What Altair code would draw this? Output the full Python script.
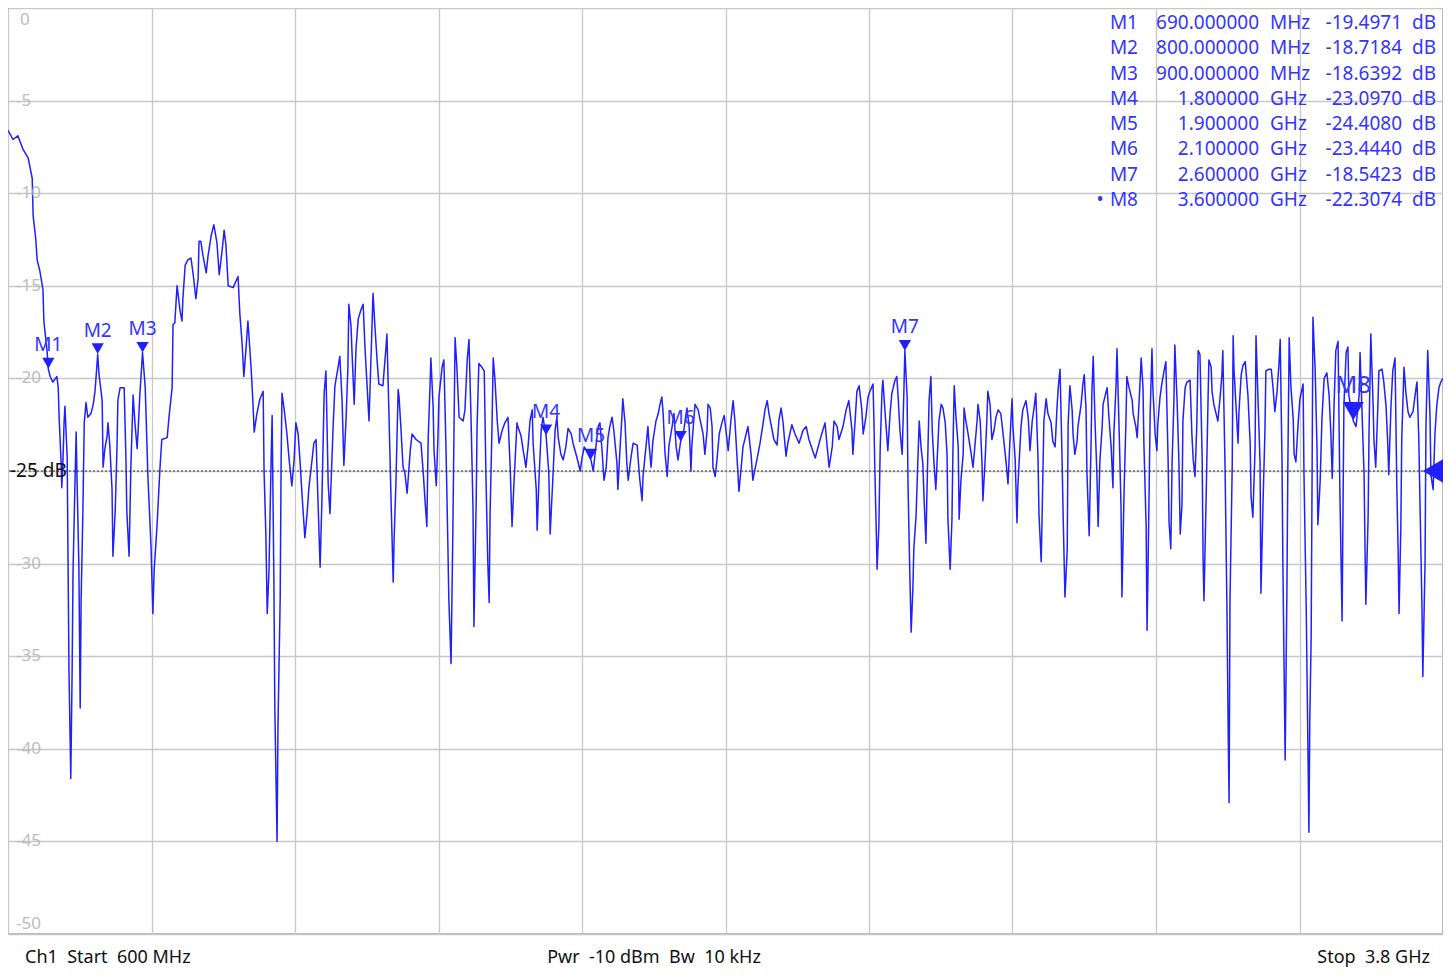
import altair as alt
import pandas as pd

# ---------------- data ----------------
freq_mhz = [
    600, 611, 622, 633, 645, 654, 656, 662, 665, 671,
    678, 680, 687, 690, 694, 700, 709, 712, 714, 718,
    720, 723, 725, 727, 732, 734, 736, 740, 743, 745,
    749, 752, 754, 758, 761, 763, 767, 770, 774, 778,
    785, 790, 794, 798, 800, 803, 810, 812, 816, 821,
    823, 827, 832, 834, 839, 843, 845, 850, 859, 863,
    865, 870, 874, 879, 883, 888, 890, 894, 900, 906,
    912, 919, 923, 926, 932, 939, 943, 955, 959, 966,
    968, 972, 977, 979, 984, 988, 990, 995, 1001, 1008,
    1013, 1019, 1024, 1026, 1030, 1035, 1042, 1046, 1053, 1059,
    1066, 1071, 1077, 1082, 1086, 1091, 1102, 1113, 1117, 1122,
    1126, 1131, 1135, 1142, 1146, 1149, 1155, 1162, 1169, 1171,
    1175, 1178, 1182, 1187, 1189, 1193, 1195, 1200, 1202, 1207,
    1209, 1211, 1216, 1222, 1227, 1233, 1238, 1242, 1247, 1251,
    1256, 1262, 1267, 1271, 1278, 1282, 1287, 1291, 1296, 1300,
    1305, 1309, 1314, 1318, 1325, 1329, 1336, 1340, 1345, 1349,
    1354, 1358, 1360, 1365, 1367, 1372, 1376, 1381, 1387, 1392,
    1396, 1401, 1405, 1410, 1414, 1418, 1423, 1427, 1436, 1443,
    1445, 1450, 1454, 1459, 1461, 1465, 1470, 1472, 1476, 1481,
    1485, 1490, 1497, 1501, 1510, 1521, 1526, 1530, 1534, 1537,
    1541, 1543, 1548, 1550, 1555, 1559, 1561, 1568, 1572, 1577,
    1581, 1583, 1588, 1592, 1595, 1597, 1601, 1606, 1615, 1619,
    1624, 1628, 1633, 1637, 1639, 1644, 1646, 1650, 1657, 1662,
    1666, 1670, 1673, 1675, 1679, 1682, 1686, 1691, 1695, 1702,
    1708, 1715, 1720, 1724, 1728, 1735, 1737, 1744, 1749, 1755,
    1760, 1764, 1769, 1771, 1778, 1780, 1784, 1789, 1793, 1800,
    1806, 1809, 1815, 1820, 1824, 1827, 1833, 1838, 1844, 1849,
    1856, 1860, 1869, 1876, 1880, 1885, 1900, 1905, 1911, 1916,
    1920, 1925, 1929, 1934, 1938, 1942, 1947, 1951, 1958, 1960,
    1965, 1969, 1971, 1976, 1980, 1983, 1989, 1994, 2003, 2005,
    2009, 2014, 2016, 2023, 2027, 2029, 2034, 2038, 2045, 2050,
    2054, 2058, 2061, 2065, 2070, 2074, 2081, 2085, 2090, 2094,
    2100, 2107, 2114, 2119, 2123, 2125, 2132, 2139, 2143, 2150,
    2154, 2159, 2161, 2166, 2170, 2172, 2177, 2181, 2186, 2192,
    2197, 2201, 2206, 2212, 2217, 2221, 2226, 2230, 2235, 2239,
    2246, 2250, 2257, 2261, 2264, 2270, 2277, 2284, 2288, 2293,
    2297, 2304, 2308, 2315, 2319, 2324, 2328, 2335, 2339, 2348,
    2355, 2364, 2373, 2380, 2386, 2400, 2411, 2417, 2422, 2426,
    2431, 2438, 2442, 2449, 2453, 2462, 2469, 2475, 2482, 2484,
    2489, 2493, 2498, 2504, 2507, 2513, 2518, 2522, 2529, 2531,
    2533, 2536, 2538, 2542, 2545, 2549, 2551, 2556, 2560, 2562,
    2567, 2571, 2574, 2578, 2582, 2585, 2589, 2594, 2596, 2598,
    2600, 2605, 2607, 2611, 2614, 2618, 2620, 2625, 2629, 2632,
    2636, 2640, 2643, 2647, 2649, 2654, 2658, 2661, 2665, 2669,
    2672, 2676, 2681, 2685, 2690, 2694, 2696, 2701, 2705, 2707,
    2710, 2714, 2719, 2721, 2725, 2730, 2732, 2736, 2741, 2748,
    2752, 2756, 2761, 2763, 2768, 2772, 2774, 2779, 2783, 2785,
    2790, 2794, 2799, 2803, 2808, 2814, 2819, 2826, 2830, 2834,
    2839, 2841, 2846, 2850, 2852, 2859, 2863, 2870, 2875, 2879,
    2884, 2888, 2892, 2897, 2899, 2904, 2908, 2910, 2915, 2919,
    2926, 2930, 2935, 2939, 2942, 2946, 2950, 2953, 2957, 2962,
    2964, 2968, 2973, 2975, 2979, 2984, 2986, 2993, 2997, 3000,
    3004, 3006, 3011, 3015, 3017, 3020, 3024, 3028, 3031, 3035,
    3040, 3042, 3046, 3051, 3055, 3060, 3064, 3066, 3071, 3073,
    3078, 3082, 3084, 3089, 3093, 3095, 3100, 3107, 3109, 3115,
    3118, 3122, 3127, 3131, 3133, 3138, 3140, 3142, 3147, 3151,
    3153, 3158, 3162, 3164, 3169, 3173, 3178, 3182, 3187, 3189,
    3193, 3196, 3200, 3202, 3207, 3211, 3214, 3218, 3220, 3225,
    3229, 3236, 3240, 3243, 3247, 3251, 3254, 3258, 3263, 3265,
    3267, 3272, 3276, 3278, 3283, 3285, 3289, 3294, 3298, 3303,
    3307, 3309, 3314, 3318, 3321, 3323, 3325, 3330, 3332, 3334,
    3338, 3343, 3345, 3350, 3354, 3359, 3365, 3370, 3372, 3376,
    3381, 3383, 3388, 3392, 3394, 3399, 3403, 3405, 3412, 3417,
    3421, 3425, 3430, 3434, 3437, 3441, 3443, 3448, 3452, 3454,
    3457, 3461, 3466, 3468, 3472, 3477, 3481, 3488, 3490, 3495,
    3499, 3501, 3503, 3506, 3508, 3510, 3515, 3519, 3521, 3526,
    3530, 3535, 3541, 3546, 3550, 3553, 3557, 3561, 3566, 3570,
    3573, 3575, 3577, 3579, 3584, 3588, 3590, 3600, 3606, 3613,
    3615, 3619, 3624, 3626, 3628, 3633, 3635, 3639, 3644, 3646,
    3650, 3655, 3657, 3664, 3668, 3673, 3677, 3679, 3684, 3688,
    3693, 3697, 3700, 3702, 3706, 3708, 3713, 3717, 3722, 3726,
    3733, 3740, 3742, 3746, 3749, 3753, 3755, 3760, 3762, 3766,
    3771, 3773, 3778, 3782, 3786, 3791, 3795, 3800,
]

s11_db = [
    -6.6, -7.1, -6.9, -7.6, -8.1, -9.2, -11.2, -12.5, -13.6, -14.2,
    -15.2, -16.9, -18.5, -19.5, -19.9, -20.2, -19.9, -20.5, -22.1, -24.3,
    -25.9, -24.1, -22.4, -21.5, -24.3, -30.1, -35.8, -41.6, -35.8, -30.5,
    -26.0, -22.9, -25.5, -30.1, -37.8, -32.0, -27.2, -22.4, -21.3, -22.1,
    -21.9, -21.4, -20.7, -19.4, -18.7, -19.8, -21.2, -24.8, -23.8, -23.1,
    -22.4, -23.6, -26.0, -29.6, -27.2, -23.8, -21.2, -20.5, -20.5, -24.3,
    -27.2, -29.6, -24.8, -20.9, -22.4, -23.8, -22.9, -20.9, -18.6, -20.5,
    -25.3, -29.1, -32.7, -30.3, -28.1, -24.8, -23.3, -23.2, -22.1, -20.5,
    -17.1, -17.0, -15.0, -15.4, -16.4, -16.9, -15.7, -13.9, -13.6, -13.5,
    -14.4, -15.7, -14.6, -12.6, -12.6, -13.4, -14.3, -13.4, -12.3, -11.7,
    -12.7, -14.4, -13.2, -12.0, -12.8, -15.0, -15.1, -14.5, -16.5, -18.1,
    -19.9, -18.3, -16.9, -19.4, -21.2, -22.9, -21.9, -21.1, -20.7, -25.0,
    -28.4, -32.7, -30.4, -24.1, -22.0, -31.1, -37.8, -45.0, -38.9, -31.8,
    -24.6, -20.8, -21.7, -23.0, -24.4, -25.8, -24.4, -22.4, -23.0, -24.4,
    -26.4, -28.6, -27.3, -25.9, -24.4, -23.5, -23.3, -26.4, -30.2, -26.6,
    -20.8, -19.6, -25.7, -27.3, -22.6, -20.4, -19.4, -18.8, -21.2, -24.7,
    -22.1, -19.4, -16.0, -17.2, -18.5, -21.4, -18.4, -16.8, -16.3, -16.0,
    -18.3, -20.5, -22.3, -18.5, -15.4, -17.1, -19.0, -20.3, -20.4, -18.3,
    -17.6, -22.4, -26.4, -31.0, -28.7, -25.7, -20.6, -21.0, -22.6, -24.8,
    -25.1, -26.2, -23.9, -23.0, -23.3, -23.5, -25.1, -26.6, -28.0, -23.2,
    -20.5, -18.9, -21.5, -23.9, -25.8, -23.0, -21.0, -19.4, -19.0, -24.1,
    -29.1, -31.9, -35.4, -28.2, -21.9, -17.8, -19.4, -22.1, -22.3, -21.7,
    -19.0, -17.9, -22.6, -27.1, -33.4, -26.7, -22.6, -19.2, -19.4, -19.6,
    -25.5, -30.0, -32.1, -27.3, -23.0, -18.9, -20.1, -22.3, -23.5, -22.8,
    -22.4, -22.1, -24.9, -28.0, -25.8, -22.4, -22.6, -23.1, -23.9, -24.8,
    -23.6, -22.3, -21.7, -23.5, -26.0, -28.2, -25.5, -22.8, -22.1, -23.1,
    -25.1, -28.4, -25.4, -22.8, -22.1, -23.2, -24.1, -24.4, -23.7, -22.7,
    -23.0, -23.5, -24.3, -25.0, -24.3, -23.7, -24.4, -25.0, -23.7, -22.6,
    -22.4, -24.0, -25.5, -24.8, -23.2, -22.6, -22.1, -22.8, -24.6, -26.0,
    -23.7, -22.1, -21.1, -22.4, -24.6, -25.5, -24.3, -23.5, -23.6, -24.3,
    -25.5, -26.6, -25.3, -23.6, -22.6, -23.4, -24.8, -23.4, -22.3, -21.9,
    -21.4, -21.0, -21.9, -24.0, -25.3, -23.6, -22.6, -21.9, -23.7, -24.4,
    -23.4, -22.8, -21.6, -22.6, -25.0, -23.6, -21.4, -21.7, -22.2, -23.0,
    -24.1, -22.8, -21.4, -21.6, -22.6, -24.8, -25.3, -24.4, -23.0, -22.4,
    -22.0, -22.8, -23.9, -22.3, -21.2, -22.3, -24.4, -26.1, -24.8, -23.7,
    -23.0, -22.6, -24.1, -25.5, -25.1, -24.4, -23.5, -22.4, -21.7, -21.2,
    -21.9, -22.8, -23.3, -23.6, -22.3, -21.6, -22.3, -24.2, -23.5, -22.5,
    -23.0, -23.5, -22.8, -22.6, -23.3, -24.3, -23.3, -22.8, -22.4, -23.5,
    -24.8, -23.7, -22.3, -22.6, -23.3, -22.6, -21.7, -21.2, -22.8, -24.1,
    -22.3, -20.7, -20.4, -21.7, -23.0, -22.1, -21.0, -20.7, -20.3, -22.3,
    -24.9, -28.0, -30.3, -28.0, -23.7, -20.7, -20.1, -21.9, -23.2, -23.9,
    -21.9, -20.8, -20.5, -20.1, -19.9, -21.0, -22.8, -24.1, -22.3, -20.5,
    -18.5, -21.0, -25.7, -30.5, -33.7, -31.2, -29.2, -27.4, -24.4, -22.3,
    -23.7, -24.6, -26.6, -28.9, -26.4, -21.2, -19.9, -22.8, -24.6, -26.0,
    -24.4, -22.3, -21.4, -21.6, -22.4, -24.1, -27.6, -30.3, -27.6, -24.1,
    -20.4, -22.1, -23.7, -27.6, -25.5, -24.1, -21.6, -22.3, -23.0, -24.1,
    -24.8, -23.7, -22.3, -21.4, -22.3, -24.6, -26.6, -24.4, -22.1, -20.7,
    -21.4, -23.3, -22.8, -22.1, -21.7, -21.9, -23.0, -24.6, -25.7, -23.5,
    -21.1, -22.6, -24.4, -27.8, -25.8, -22.6, -21.7, -21.2, -22.1, -23.9,
    -22.3, -21.6, -20.8, -24.4, -27.3, -29.9, -24.9, -22.3, -21.1, -21.9,
    -22.4, -23.4, -23.7, -21.7, -20.5, -19.5, -23.7, -27.5, -31.8, -29.3,
    -22.5, -20.4, -21.7, -23.0, -24.1, -23.4, -22.6, -21.4, -20.3, -19.8,
    -21.7, -25.1, -28.5, -23.7, -20.8, -18.8, -22.3, -25.0, -28.0, -24.4,
    -22.6, -21.4, -21.0, -20.5, -22.1, -23.7, -25.9, -23.0, -20.3, -18.4,
    -23.0, -26.9, -31.8, -25.9, -22.3, -19.9, -20.5, -21.2, -21.9, -22.6,
    -23.2, -21.4, -18.9, -20.5, -23.5, -28.0, -33.6, -30.7, -21.9, -18.4,
    -20.5, -23.0, -23.9, -22.5, -21.0, -20.3, -19.6, -19.1, -24.4, -27.7,
    -29.2, -24.4, -21.2, -18.2, -21.2, -24.4, -28.4, -26.8, -22.3, -20.5,
    -20.2, -20.1, -23.0, -24.4, -25.3, -22.5, -18.5, -18.7, -24.4, -29.8,
    -32.0, -26.2, -21.2, -19.0, -19.4, -20.7, -21.4, -21.9, -22.3, -21.0,
    -19.8, -18.5, -24.8, -32.0, -39.1, -42.9, -32.0, -24.7, -17.7, -19.6,
    -21.3, -23.5, -21.8, -19.8, -19.3, -19.1, -20.9, -23.5, -26.4, -27.5,
    -23.7, -17.7, -21.5, -24.5, -31.6, -26.4, -22.8, -19.6, -19.5, -19.5,
    -20.5, -21.8, -20.7, -19.3, -17.9, -24.5, -30.1, -40.6, -31.2, -24.8,
    -17.8, -20.5, -22.2, -24.1, -24.5, -22.4, -21.1, -20.3, -25.2, -32.4,
    -40.3, -44.5, -38.4, -33.9, -25.6, -16.7, -19.6, -23.7, -27.9, -25.6,
    -22.2, -20.0, -19.7, -20.9, -23.0, -25.4, -21.5, -18.5, -18.0, -26.0,
    -30.3, -33.1, -27.1, -21.5, -18.6, -18.3, -20.9, -22.3, -22.6, -20.9,
    -18.6, -21.5, -25.2, -29.0, -32.2, -27.5, -23.0, -17.6, -21.3, -23.3,
    -24.8, -21.3, -19.6, -19.5, -20.2, -21.5, -23.6, -25.2, -21.5, -19.6,
    -18.9, -25.8, -29.4, -32.7, -28.0, -23.3, -19.4, -20.7, -21.8, -22.1,
    -21.8, -20.5, -20.2, -23.2, -27.1, -32.2, -36.1, -29.9, -22.6, -18.5,
    -22.0, -25.2, -26.0, -23.0, -21.5, -20.5, -20.2, -20.0,
]

marker_names = ["M1", "M2", "M3", "M4", "M5", "M6", "M7", "M8"]
marker_freq_mhz = [690, 800, 900, 1800, 1900, 2100, 2600, 3600]
marker_db = [-19.4971, -18.7184, -18.6392, -23.0970, -24.4080, -23.4440, -18.5423, -22.3074]
marker_freq_text = ["690.000000", "800.000000", "900.000000", "1.800000",
                    "1.900000", "2.100000", "2.600000", "3.600000"]
marker_unit_text = ["MHz", "MHz", "MHz", "GHz", "GHz", "GHz", "GHz", "GHz"]
marker_db_text = ["-19.4971", "-18.7184", "-18.6392", "-23.0970",
                  "-24.4080", "-23.4440", "-18.5423", "-22.3074"]
marker_active = ["", "", "", "", "", "", "", "\u2022"]

x_grid_mhz = [600, 920, 1240, 1560, 1880, 2200, 2520, 2840, 3160, 3480, 3800]
y_tick_values = [0, -5, -10, -15, -20, -25, -30, -35, -40, -45, -50]
ref_level_db = -25
ref_level_label = "-25 dB"
footer_texts = ["Ch1\u00a0 Start\u00a0 600 MHz",
                "Pwr\u00a0 -10 dBm\u00a0 Bw\u00a0 10 kHz",
                "Stop\u00a0 3.8 GHz"]

assert len(freq_mhz) == len(s11_db)

# ---------------- chart ----------------
W, H = 1435, 926
FONT = "Noto Sans"
TRACE = "#2020ff"
MTEXT = "#3434ff"
GRID = "#c8c8c8"

x_scale = alt.Scale(domain=[600, 3800], nice=False, zero=False)
y_scale = alt.Scale(domain=[-50, 0], nice=False, zero=False)

trace_df = pd.DataFrame({"freq": freq_mhz, "db": s11_db})
marker_df = pd.DataFrame({
    "name": marker_names, "freq": marker_freq_mhz, "db": marker_db,
    "ftxt": marker_freq_text, "unit": marker_unit_text,
    "dbtxt": marker_db_text, "active": marker_active,
})
tick_df = pd.DataFrame({"v": y_tick_values, "label": [str(v) for v in y_tick_values]})
ref_df = pd.DataFrame({"freq": [3800], "db": [ref_level_db], "label": [ref_level_label]})

x_enc = alt.X("freq:Q", scale=x_scale,
              axis=alt.Axis(values=x_grid_mhz, labels=False, ticks=False,
                            domain=False, title=None, grid=True))
y_enc = alt.Y("db:Q", scale=y_scale,
              axis=alt.Axis(values=y_tick_values, labels=False, ticks=False,
                            domain=False, title=None, grid=True))

trace = alt.Chart(trace_df).mark_line(
    color=TRACE, strokeWidth=1.5, strokeJoin="round"
).encode(x=x_enc, y=y_enc)

ref_line = alt.Chart(ref_df).mark_rule(
    color="#333333", strokeDash=[2, 2], strokeWidth=1
).encode(y=alt.Y("db:Q", scale=y_scale))

ref_text = alt.Chart(ref_df).mark_text(
    align="left", baseline="middle", fontSize=19, color="#111111", font=FONT
).encode(x=alt.value(2), y=alt.Y("db:Q", scale=y_scale), text="label:N")

ref_arrow = alt.Chart(ref_df).mark_point(
    shape="triangle-left", filled=True, size=560, color=TRACE, opacity=1, xOffset=-10
).encode(x=alt.X("freq:Q", scale=x_scale), y=alt.Y("db:Q", scale=y_scale))

lab_common = dict(align="left", fontSize=17, color="#bcbcbc", font=FONT)
mid_labels = alt.Chart(tick_df).transform_filter(
    "datum.v < 0 && datum.v > -50 && datum.v != -25"
).mark_text(baseline="middle", **lab_common).encode(
    x=alt.value(8), y=alt.Y("v:Q", scale=y_scale), text="label:N")
top_label = alt.Chart(tick_df).transform_filter("datum.v == 0").mark_text(
    baseline="top", dy=4, **lab_common).encode(
    x=alt.value(12), y=alt.Y("v:Q", scale=y_scale), text="label:N")
bot_label = alt.Chart(tick_df).transform_filter("datum.v == -50").mark_text(
    baseline="bottom", dy=-1, **lab_common).encode(
    x=alt.value(8), y=alt.Y("v:Q", scale=y_scale), text="label:N")

m_pos = dict(x=alt.X("freq:Q", scale=x_scale), y=alt.Y("db:Q", scale=y_scale))
tri_small = alt.Chart(marker_df).transform_filter("datum.name != 'M8'").mark_point(
    shape="triangle-down", filled=True, size=150, color=TRACE, opacity=1, yOffset=-6
).encode(**m_pos)
lab_small = alt.Chart(marker_df).transform_filter("datum.name != 'M8'").mark_text(
    dy=-24, fontSize=19, color=MTEXT, font=FONT, baseline="middle"
).encode(text="name:N", **m_pos)
tri_big = alt.Chart(marker_df).transform_filter("datum.name == 'M8'").mark_point(
    shape="triangle-down", filled=True, size=440, color=TRACE, opacity=1, yOffset=-10
).encode(**m_pos)
lab_big = alt.Chart(marker_df).transform_filter("datum.name == 'M8'").mark_text(
    dy=-35, fontSize=24, color=MTEXT, font=FONT, baseline="middle"
).encode(text="name:N", **m_pos)

main = alt.layer(trace, ref_line, mid_labels, top_label, bot_label,
                 ref_text, ref_arrow, tri_small, lab_small, tri_big, lab_big)

# marker table (own row scale)
row_y = alt.Y("row:Q", scale=alt.Scale(domain=[1, 8], range=[15, 192]), axis=None)
leg = alt.Chart(marker_df).transform_window(row="row_number()")
t_common = dict(fontSize=19, color=MTEXT, font=FONT, baseline="middle")
leg_active = leg.mark_text(align="center", **t_common).encode(
    x=alt.value(1092), y=row_y, text="active:N")
leg_name = leg.mark_text(align="right", **t_common).encode(
    x=alt.value(1130), y=row_y, text="name:N")
leg_freq = leg.mark_text(align="right", **t_common).encode(
    x=alt.value(1251), y=row_y, text="ftxt:N")
leg_unit = leg.mark_text(align="left", **t_common).encode(
    x=alt.value(1262), y=row_y, text="unit:N")
leg_db = leg.mark_text(align="right", **t_common).encode(
    x=alt.value(1394), y=row_y, text="dbtxt:N")
leg_dbu = leg.mark_text(align="left", text="dB", **t_common).encode(
    x=alt.value(1404), y=row_y)
legend = alt.layer(leg_active, leg_name, leg_freq, leg_unit, leg_db, leg_dbu)

# footer
f_common = dict(fontSize=18, color="#111111", font=FONT, baseline="middle")
foot_l = alt.Chart(pd.DataFrame({"t": [footer_texts[0]]})).mark_text(
    align="left", **f_common).encode(x=alt.value(17), y=alt.value(950), text="t:N")
foot_c = alt.Chart(pd.DataFrame({"t": [footer_texts[1]]})).mark_text(
    align="center", **f_common).encode(x=alt.value(646), y=alt.value(950), text="t:N")
foot_r = alt.Chart(pd.DataFrame({"t": [footer_texts[2]]})).mark_text(
    align="right", **f_common).encode(x=alt.value(1422), y=alt.value(950), text="t:N")
footer = alt.layer(foot_l, foot_c, foot_r)

chart = alt.layer(main, legend, footer).resolve_scale(y="independent").properties(
    width=W, height=H,
    autosize=alt.AutoSizeParams(type="none"),
    padding={"left": 0, "top": 0, "right": 0, "bottom": 38},
).configure(font=FONT).configure_view(
    stroke="#9c9c9c", strokeWidth=1.5
).configure_axis(gridColor=GRID, gridWidth=1.3, gridOpacity=1)

chart.save("out.html", embed_options={"renderer": "svg", "actions": False})
